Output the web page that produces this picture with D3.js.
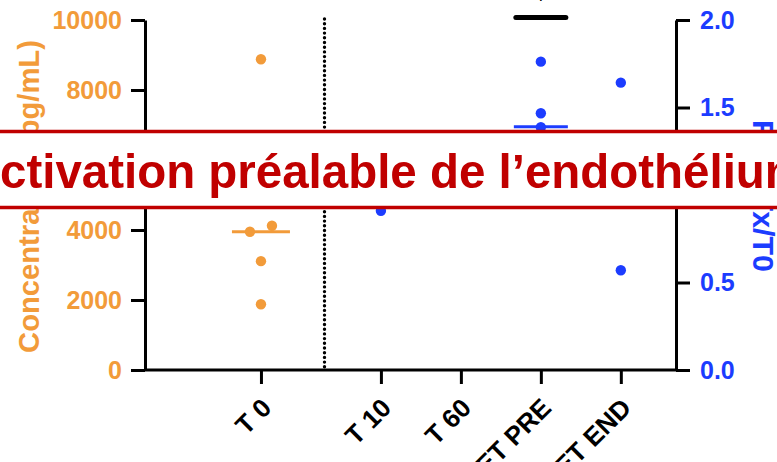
<!DOCTYPE html>
<html><head><meta charset="utf-8">
<script src="https://cdn.jsdelivr.net/npm/d3@7"></script>
<style>
html,body{margin:0;padding:0;background:#fff;}
svg{display:block;font-family:"Liberation Sans",Arial,sans-serif;}
</style></head>
<body>
<svg id="c" width="777" height="462"></svg>
<script>
// ---------- data ----------
const categories = ["T 0", "T 10", "T 60", "ET PRE", "ET END"];
const slots = [0, 1.5, 2.5, 3.5, 4.5];           // category slot along the x axis (gap after T 0)
const leftTicks = [0, 2000, 4000, 6000, 8000, 10000];
const rightTicks = [0.0, 0.5, 1.0, 1.5, 2.0];

// concentration (pg/mL), left axis, T 0
const concCat = ["T 0", "T 0", "T 0", "T 0", "T 0"];
const concValues = [8880, 4120, 3950, 3110, 1880];
const concJitter = [0, 11, -11, 0, 0];
const concMedian = [{cat: "T 0", value: 3950}];

// ratio Tx/T0, right axis
const ratioCat = ["T 10", "ET PRE", "ET PRE", "ET PRE", "ET END", "ET END"];
const ratioValues = [0.91, 1.762, 1.467, 1.387, 1.642, 0.57];
const ratioMedian = [{cat: "ET PRE", value: 1.39}];

// black median line (top)
const blackMedian = [{cat: "ET PRE", value: 2.015}];

const bannerText = "Activation préalable de l’endothélium";
const leftTitle = "Concentration (pg/mL)";
const rightTitle = "Fold Tx/T0";

// ---------- style ----------
const ORANGE = "#F29B3A", BLUE = "#1C3CFF", RED = "#C00000";

const svg = d3.select("#c");
const x = d3.scaleLinear().domain([-1.45, 5.19]).range([145, 676]);
const yL = d3.scaleLinear().domain([0, 10000]).range([370, 20]);
const yR = d3.scaleLinear().domain([0, 2]).range([370, 20]);
const slotOf = c => slots[categories.indexOf(c)];

// dotted separator
svg.append("line")
  .attr("x1", 324.5).attr("x2", 324.5)
  .attr("y1", 19).attr("y2", 369)
  .attr("stroke", "#000").attr("stroke-width", 3.4)
  .attr("stroke-linecap", "round")
  .attr("stroke-dasharray", "0.01,4.69");

// axes
function styleAxis(g, color) {
  g.selectAll("path.domain").attr("stroke", "#000").attr("stroke-width", 3);
  g.selectAll(".tick line").attr("stroke", "#000").attr("stroke-width", 3);
  g.selectAll(".tick text").attr("fill", color).attr("font-weight", "bold").attr("font-size", 25);
}
const gL = svg.append("g").attr("transform", "translate(145,0)")
  .call(d3.axisLeft(yL).tickValues(leftTicks).tickSize(14).tickSizeOuter(0).tickPadding(9).tickFormat(d3.format("d")));
styleAxis(gL, ORANGE);

const gR = svg.append("g").attr("transform", "translate(676,0)")
  .call(d3.axisRight(yR).tickValues(rightTicks).tickSize(14).tickSizeOuter(0).tickPadding(10).tickFormat(d3.format(".1f")));
styleAxis(gR, BLUE);

const gB = svg.append("g").attr("transform", "translate(0,370)")
  .call(d3.axisBottom(x).tickValues(slots).tickSize(14).tickSizeOuter(0).tickFormat((d, i) => categories[i]));
styleAxis(gB, "#000");
gB.select("path.domain").attr("d", `M145,0H676`);
gB.selectAll(".tick text").attr("font-size", 26)
  .attr("text-anchor", "end")
  .attr("transform", "translate(5,33) rotate(-45)")
  .attr("x", 0).attr("y", 0).attr("dy", "0.35em");

// median lines
svg.selectAll(".medC").data(concMedian).join("line")
  .attr("x1", d => x(slotOf(d.cat)) - 29).attr("x2", d => x(slotOf(d.cat)) + 29)
  .attr("y1", d => yL(d.value)).attr("y2", d => yL(d.value))
  .attr("stroke", ORANGE).attr("stroke-width", 3);
svg.selectAll(".medR").data(ratioMedian).join("line")
  .attr("x1", d => x(slotOf(d.cat)) - 27).attr("x2", d => x(slotOf(d.cat)) + 27)
  .attr("y1", d => yR(d.value)).attr("y2", d => yR(d.value))
  .attr("stroke", BLUE).attr("stroke-width", 3);
svg.selectAll(".medB").data(blackMedian).join("line")
  .attr("x1", d => x(slotOf(d.cat)) - 25).attr("x2", d => x(slotOf(d.cat)) + 25)
  .attr("y1", d => yR(d.value)).attr("y2", d => yR(d.value))
  .attr("stroke", "#000").attr("stroke-width", 5).attr("stroke-linecap", "round");
svg.selectAll(".plus").data(blackMedian).join("text")
  .attr("x", d => x(slotOf(d.cat))).attr("y", 2)
  .attr("text-anchor", "middle").attr("font-size", 14).attr("font-weight", "bold").text("+");

// points
svg.selectAll(".ptC").data(concValues).join("circle")
  .attr("cx", (d, i) => x(slotOf(concCat[i])) + concJitter[i])
  .attr("cy", d => yL(d)).attr("r", 5.2).attr("fill", ORANGE);
svg.selectAll(".ptR").data(ratioValues).join("circle")
  .attr("cx", (d, i) => x(slotOf(ratioCat[i])))
  .attr("cy", d => yR(d)).attr("r", 5.2).attr("fill", BLUE);

// axis titles
function fitText(sel, target) {
  const w = sel.node().getComputedTextLength();
  return target / w;
}
const lt = svg.append("text").attr("font-weight", "bold").attr("font-size", 30)
  .attr("fill", ORANGE).attr("text-anchor", "middle").text(leftTitle);
let s = fitText(lt, 313);
lt.attr("transform", `translate(39,196.5) rotate(-90) scale(${s},1)`);

const rt = svg.append("text").attr("font-weight", "bold").attr("font-size", 29)
  .attr("fill", BLUE).attr("text-anchor", "middle").text(rightTitle);
s = fitText(rt, 152);
rt.attr("transform", `translate(753,196) rotate(90) scale(${s},1)`);

// banner
svg.append("rect").attr("x", -5).attr("y", 131.5).attr("width", 790).attr("height", 76)
  .attr("fill", "#fff").attr("stroke", RED).attr("stroke-width", 3.5);
const bt = svg.append("text").attr("font-weight", "bold").attr("font-size", 49)
  .attr("fill", RED).attr("y", 188).text(bannerText);
const node = bt.node();
const n = bannerText.length;
const aW = node.getSubStringLength(0, 1);
const midW = node.getSubStringLength(1, n - 2);
const sx = 765 / midW;
bt.attr("transform", `translate(${-aW * sx},0) scale(${sx},1)`);
</script>
</body></html>
